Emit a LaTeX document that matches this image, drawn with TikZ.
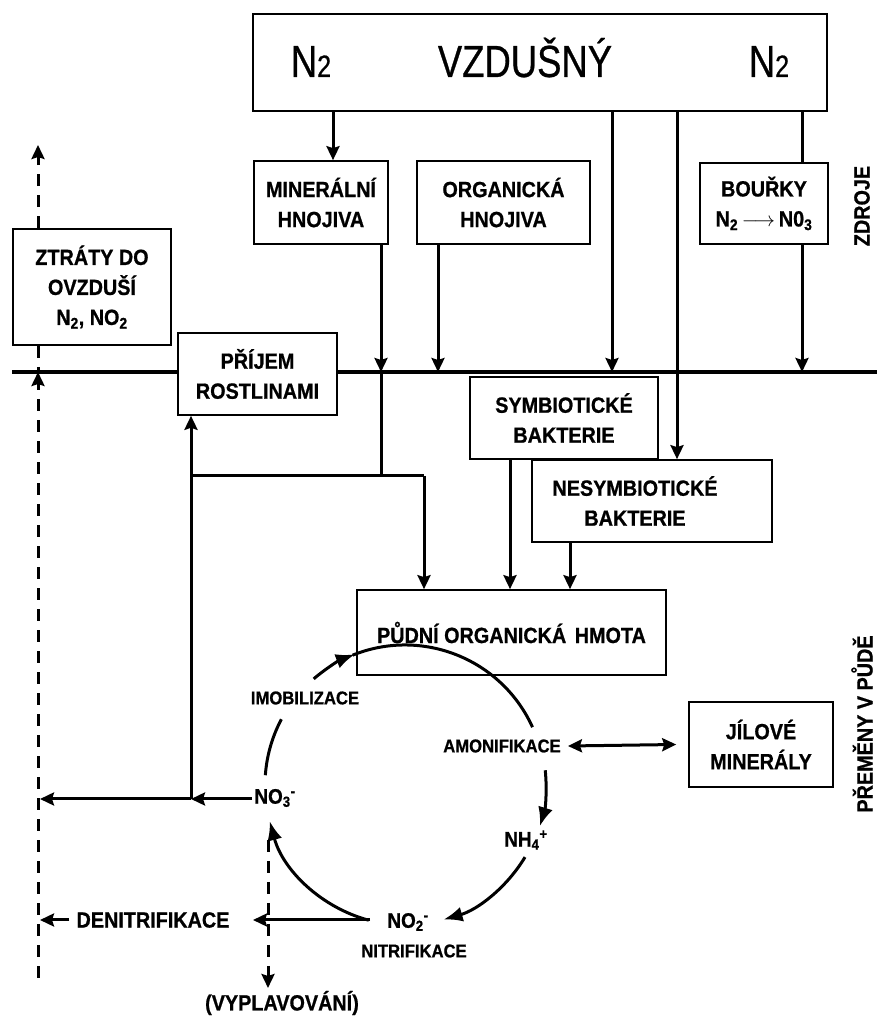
\documentclass[tikz,border=0pt]{standalone}
\usepackage{fontspec}
\setmainfont{Liberation Sans}
\newfontfamily\narrowfont{Liberation Sans}[FakeStretch=0.81,FakeBold=0.6]
\newfontfamily\labfont{Liberation Sans Bold}[FakeStretch=0.9,FakeBold=0.8]
\usetikzlibrary{arrows.meta,calc}
\newcommand\mysub[1]{\textsubscript{#1}}
\newcommand\mysup[1]{\textsuperscript{#1}}
\begin{document}
\begin{tikzpicture}[x=1pt,y=1pt,
  box/.style={draw, line width=1.6pt, fill=white, inner sep=2pt, align=center,
    font=\labfont\fontsize{22}{30}\selectfont},
  lbl/.style={inner sep=2pt, align=center, font=\labfont\fontsize{22}{30}\selectfont},
  slbl/.style={inner sep=2pt, align=center, font=\labfont\fontsize{18.5}{20}\selectfont},
  clbl/.style={inner sep=2pt, align=center, font=\labfont\fontsize{21}{20}\selectfont},
  big/.style={anchor=base, inner sep=0pt, font=\narrowfont\fontsize{45}{45}\selectfont},
  conn/.style={line width=3pt},
  arr/.style={line width=3pt, -{Stealth[length=14pt,width=13pt,inset=2pt]}},
  dline/.style={line width=3pt, dash pattern=on 12pt off 9pt},
  darr/.style={line width=3pt, dash pattern=on 12pt off 9pt, -{Stealth[length=14pt,width=13pt,inset=2pt]}},
  carr/.style={line width=3pt, -{Latex[length=19pt,width=15pt]}},
  carc/.style={line width=3pt}]
\fill[white] (0,0) rectangle (879,1017);
\useasboundingbox (0,0) rectangle (879,1017);

% coordinates
\coordinate (gl) at (12,645);
\coordinate (gr) at (877,645);
\coordinate (x333) at (333,0);
\coordinate (x381) at (381,0);
\coordinate (x438) at (438,0);
\coordinate (x612) at (612,0);
\coordinate (x677) at (677,0);
\coordinate (x802) at (802,0);
\coordinate (x424) at (424,0);
\coordinate (x510) at (510,0);
\coordinate (x570) at (570,0);
\coordinate (x191) at (191,0);
\coordinate (dtop) at (38,872);
\coordinate (dbot) at (38,39);
\coordinate (j2) at (381,541);
\coordinate (j3) at (191,541);
\coordinate (j4) at (424,541);
\coordinate (j1) at (191,218);
\coordinate (no3end) at (40,218);
\coordinate (denend) at (40,97);
\coordinate (no2start) at (370,97);
\coordinate (no2end) at (253,97);
\coordinate (v1) at (268,177);
\coordinate (v2) at (268,29);
\coordinate (C) at (405,232);

% ground line
\draw[line width=3.2pt] (gl) -- (gr);

% boxes
\node[box, minimum width=574pt, minimum height=97pt] (top) at (540,954.5) {};
\node[big] (n2l) at (311,940) {N{\fontsize{31}{31}\selectfont 2}};
\node[big] (vz) at (525,940) {VZDUŠNÝ};
\node[big] (n2r) at (769,940) {N{\fontsize{31}{31}\selectfont 2}};

\node[box, minimum width=134pt, minimum height=83pt] (mh) at (321,814.5) {MINERÁLNÍ\\HNOJIVA};
\node[box, minimum width=173pt, minimum height=83pt] (oh) at (503.5,814.5) {ORGANICKÁ\\HNOJIVA};
\node[box, minimum width=128pt, minimum height=81pt] (bo) at (764,813.5) {BOUŘKY\\N\mysub{2}\,$\longrightarrow$\,N0\mysub{3}};
\node[box, minimum width=158pt, minimum height=116pt] (zt) at (92,730) {ZTRÁTY DO\\OVZDUŠÍ\\N\mysub{2}, NO\mysub{2}};
\node[box, minimum width=159pt, minimum height=82pt] (pr) at (257.5,643) {PŘÍJEM\\ROSTLINAMI};
\node[box, minimum width=188pt, minimum height=82pt] (sb) at (564,599) {SYMBIOTICKÉ\\BAKTERIE};
\node[box, minimum width=240pt, minimum height=82pt] (ns) at (652,516) {};
\node[lbl] (nst) at (635,516) {NESYMBIOTICKÉ\\BAKTERIE};
\node[box, minimum width=309pt, minimum height=85pt] (po) at (511.5,384.5) {PŮDNÍ ORGANICKÁ\hspace{3pt} HMOTA};
\node[box, minimum width=144pt, minimum height=85pt] (jm) at (761,272.5) {JÍLOVÉ\\MINERÁLY};

% side labels
\node[lbl, rotate=90, inner sep=0pt] (zd) at (862,811) {ZDROJE};
\node[lbl, rotate=90, inner sep=0pt] (pm) at (862,293) {PŘEMĚNY V PŮDĚ};

% cycle labels
\node[slbl] (imob) at (305,319) {IMOBILIZACE};
\node[slbl] (amon) at (502,271) {AMONIFIKACE};
\node[clbl] (nh4) at (526,177) {NH\mysub{4}\mysup{+}};
\node[clbl] (no3) at (275,219) {NO\mysub{3}\mysup{-}};
\node[clbl] (no2) at (408,95) {NO\mysub{2}\mysup{-}};
\node[slbl] (nitr) at (414,66) {NITRIFIKACE};
\node[lbl] (denit) at (153,97) {DENITRIFIKACE};
\node[lbl] (vypl) at (282,14) {(VYPLAVOVÁNÍ)};

% connectors from top
\draw[arr] (top.south -| x333) -- (mh.north -| x333);
\draw[arr] (top.south -| x612) -- (gl -| x612);
\draw[arr] (top.south -| x677) -- (ns.north -| x677);
\draw[conn] (top.south -| x802) -- (bo.north -| x802);
\draw[arr] (bo.south -| x802) -- (gl -| x802);
\draw[arr] (oh.south -| x438) -- (gl -| x438);
\draw[arr] (mh.south -| x381) -- (gl -| x381);
\draw[conn] (gl -| x381) -- (j2);
\draw[conn] (j3) -- (j4);
\draw[arr] (j4) -- (po.north -| x424);
\draw[arr] (sb.south -| x510) -- (po.north -| x510);
\draw[arr] (ns.south -| x570) -- (po.north -| x570);

% NO3 outputs
\draw[arr] (no3.west |- j1) -- (j1);
\draw[arr] (j1) -- (no3end);
\draw[arr] (j1) -- (pr.south -| x191);

% NO2 / denitrification
\draw[arr] (no2start) -- (no2end);
\draw[arr] ([xshift=-5pt]denit.west |- denend) -- (denend);

% dashed lines
\draw[darr] (zt.north -| dbot) -- (dtop);
\draw[dline] (zt.south -| dbot) -- (gl -| dbot);
\draw[darr] (dbot) -- (gl -| dbot);
\draw[darr] (v1) -- (v2);

% clay minerals
\draw[line width=3pt, {Stealth[length=14pt,width=13pt,inset=2pt]}-{Stealth[length=14pt,width=13pt,inset=2pt]}] ([xshift=5pt]amon.east) -- ([xshift=-12pt]jm.west);

% cycle
\draw[carc] ($(C)+(176:140)$) arc[start angle=176, end angle=152, radius=140pt];
\draw[carr] ($(C)+(130.7:140)$) arc[start angle=130.7, end angle=111, radius=140pt];
\draw[carc] ($(C)+(112:140)$) arc[start angle=112, end angle=24.4, radius=140pt];
\draw[carr] ($(C)+(6:141)$) arc[start angle=6, end angle=-17, radius=141pt];
\draw[carr] ($(C)+(-31:140)$) arc[start angle=-31, end angle=-74, radius=140pt];
\draw[carr] ($(C)+(-105:140)$) arc[start angle=-105, end angle=-165, radius=140pt];
\end{tikzpicture}
\end{document}
